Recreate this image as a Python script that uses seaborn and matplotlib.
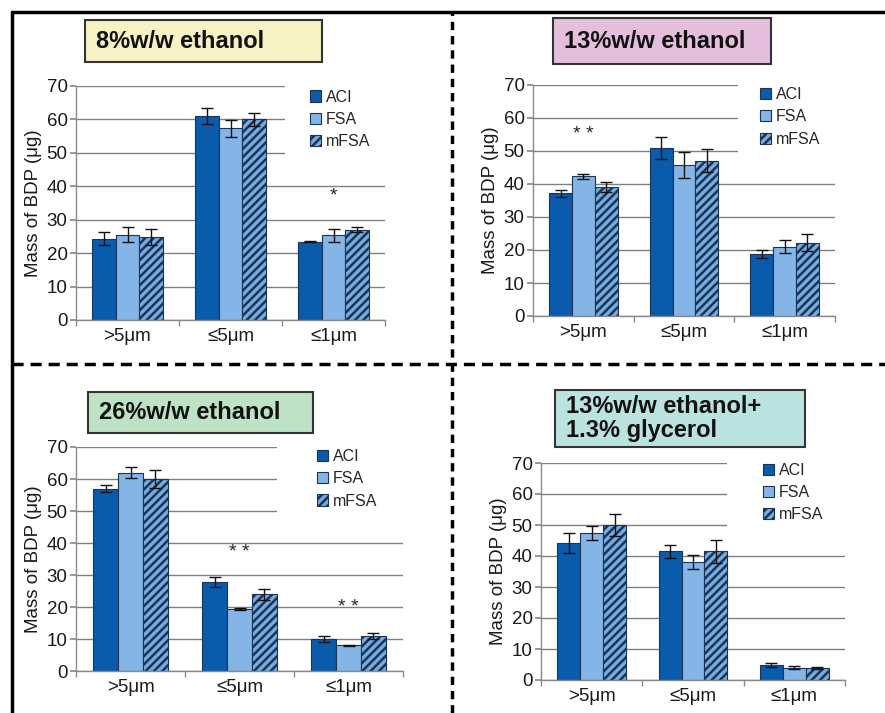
import matplotlib.pyplot as plt
import pandas as pd
import seaborn as sns
from matplotlib.lines import Line2D
from matplotlib.patches import Patch, Rectangle

sizes = [">5μm", "≤5μm", "≤1μm"]
methods = ["ACI", "FSA", "mFSA"]

# mass of BDP (ug) and error half-length; rows = ACI, FSA, mFSA
mean_8 = [[24.3, 61.0, 23.4], [25.5, 57.3, 25.3], [24.8, 60.0, 27.0]]
err_8 = [[2.0, 2.3, 0.2], [2.3, 2.5, 2.0], [2.3, 2.0, 0.8]]
mean_13 = [[37.2, 50.8, 18.8], [42.3, 45.8, 21.0], [39.0, 47.0, 22.2]]
err_13 = [[1.0, 3.3, 1.2], [0.8, 4.0, 2.0], [1.5, 3.5, 2.5]]
mean_26 = [[57.0, 27.8, 10.0], [62.0, 19.3, 8.0], [60.0, 24.0, 11.0]]
err_26 = [[1.0, 1.5, 1.0], [1.7, 0.3, 0.2], [2.7, 1.7, 1.0]]
mean_gly = [[44.2, 41.5, 4.8], [47.5, 38.0, 4.0], [50.0, 41.5, 4.0]]
err_gly = [[3.2, 2.2, 0.7], [2.2, 2.2, 0.4], [3.4, 3.7, 0.3]]

# significance marks: (category index, height, text)
stars_8 = [(2, 37, "*")]
stars_13 = [(0, 55, "* *")]
stars_26 = [(1, 37, "* *"), (2, 20, "* *")]
stars_gly = []

W, H = 885, 713
sns.set_theme(style="white")
plt.rcParams["font.family"] = ["Liberation Sans", "DejaVu Sans"]
plt.rcParams["hatch.linewidth"] = 1.8

palette = {"ACI": "#0a5bab", "FSA": "#84b5e6", "mFSA": "#76acdd"}
edge = "#1a3358"

fig = plt.figure(figsize=(W / 100, H / 100), dpi=100)

panels = [
    # title, means, errs, stars, box colour, axes px, box px, legend anchor, mask x
    ("8%w/w ethanol", mean_8, err_8, stars_8, "#f6f2c4",
     (76, 86, 385, 320), (85, 20, 322, 62), (0.757, 0.985), 0.676),
    ("13%w/w ethanol", mean_13, err_13, stars_13, "#e4bedc",
     (533, 85, 835, 316), (553, 18, 771, 64), (0.752, 0.99), 0.679),
    ("26%w/w ethanol", mean_26, err_26, stars_26, "#bde2c5",
     (76, 447, 403, 671), (88, 392, 313, 433), (0.737, 0.99), 0.615),
    ("13%w/w ethanol+\n1.3% glycerol", mean_gly, err_gly, stars_gly, "#bae3df",
     (541, 463, 845, 680), (555, 390, 805, 447), (0.730, 1.0), 0.612),
]

for title, mean, err, stars, boxcol, apx, bpx, lanchor, maskx in panels:
    x0, y0, x1, y1 = apx
    ax = fig.add_axes([x0 / W, 1 - y1 / H, (x1 - x0) / W, (y1 - y0) / H])

    df = pd.DataFrame({
        "size": sizes * 3,
        "method": [m for m in methods for _ in sizes],
        "mass": [v for row in mean for v in row],
    })
    sns.barplot(data=df, x="size", y="mass", hue="method", order=sizes,
                hue_order=methods, palette=palette, saturation=1, width=0.68,
                edgecolor=edge, linewidth=0.8, errorbar=None, legend=False,
                ax=ax)

    bar_conts = list(ax.containers)
    for bar in bar_conts[2]:
        bar.set_hatch("////")

    for ci, cont in enumerate(bar_conts):
        for j, bar in enumerate(cont):
            ax.errorbar(bar.get_x() + bar.get_width() / 2, bar.get_height(),
                        yerr=err[ci][j], fmt="none", ecolor="#111111",
                        elinewidth=1, capsize=4, capthick=1, zorder=3)

    ax.set_xlim(-0.5, 2.5)
    ax.set_ylim(0, 70)
    ax.set_yticks(range(0, 71, 10))
    ax.set_xticks([-0.5, 0.5, 1.5, 2.5], minor=True)
    ax.yaxis.grid(True, color="#808080", lw=1)
    ax.set_axisbelow(True)
    for s in ["top", "right"]:
        ax.spines[s].set_visible(False)
    for s in ["left", "bottom"]:
        ax.spines[s].set_color("#8a8a8a")
        ax.spines[s].set_linewidth(1)
    ax.tick_params(axis="y", direction="out", length=4, color="#8a8a8a",
                   labelsize=13.5, pad=2, left=True, labelcolor="#1a1a1a")
    ax.tick_params(axis="x", which="major", length=0, labelsize=13.5, pad=6,
                   labelcolor="#1a1a1a")
    ax.tick_params(axis="x", which="minor", direction="out", length=4,
                   color="#8a8a8a", bottom=True)
    ax.set_xlabel("")
    ax.set_ylabel("Mass of BDP (μg)", fontsize=13.5, labelpad=3,
                  color="#1a1a1a")

    # white area behind the legend hides the upper grid lines
    ax.add_patch(Rectangle((maskx, 0.62), 1.02 - maskx, 0.4,
                           transform=ax.transAxes, facecolor="white",
                           edgecolor="none", zorder=0.8, clip_on=False))

    handles = [Patch(facecolor=palette[m], edgecolor=edge, lw=0.8,
                     hatch="////" if m == "mFSA" else None) for m in methods]
    ax.legend(handles, methods, loc="upper left", bbox_to_anchor=lanchor,
              frameon=False, fontsize=11.5, handlelength=0.7,
              handleheight=0.7, handletextpad=0.3, labelspacing=0.45,
              borderpad=0, borderaxespad=0)

    for ix, y, s in stars:
        ax.text(ix, y, s, ha="center", va="center", fontsize=14)

    bx0, by0, bx1, by1 = bpx
    fig.add_artist(Rectangle((bx0 / W, 1 - by1 / H), (bx1 - bx0) / W,
                             (by1 - by0) / H, transform=fig.transFigure,
                             facecolor=boxcol, edgecolor="#333333", lw=1.5))
    fig.text((bx0 + 11) / W, 1 - ((by0 + by1) / 2) / H, title,
             fontsize=17, fontweight="bold", ha="left", va="center",
             linespacing=1.05, color="#111111")

# panel frame: solid top/left, dashed dividers
fig.add_artist(Line2D([12 / W, 1], [1 - 12 / H] * 2, color="black", lw=2.5))
fig.add_artist(Line2D([12 / W] * 2, [0, 1 - 12 / H], color="black", lw=2.5))
fig.add_artist(Line2D([452 / W] * 2, [0, 1 - 12 / H], color="black", lw=2.5,
                      dashes=(2.4, 1.7)))
fig.add_artist(Line2D([12 / W, 1], [1 - 364 / H] * 2, color="black", lw=2.5,
                      dashes=(3.2, 2.0)))

fig.savefig("out.png", dpi=100)
